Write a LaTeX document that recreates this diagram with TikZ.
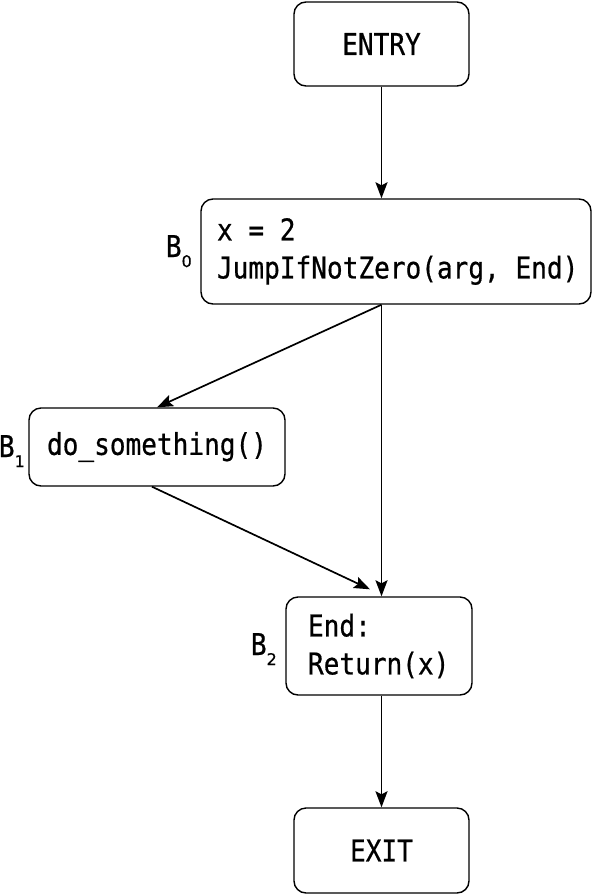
\documentclass[tikz,border=0pt]{standalone}
\usepackage{fontspec}
\newfontfamily\codefont[FakeStretch=0.87,FakeBold=0.6]{DejaVu Sans Mono}
\newfontfamily\subfont[FakeBold=0.6]{DejaVu Sans}
\usetikzlibrary{arrows.meta,calc}
\tikzset{
  blk/.style={draw, line width=1.4pt, rounded corners=12pt, inner sep=0pt,
    font=\codefont\fontsize{30}{38}\selectfont},
  lbl/.style={anchor=base east, inner sep=0pt, font=\codefont\fontsize{30}{38}\selectfont},
  arr/.style={line width=1.7pt, -{Stealth[length=16pt,width=12pt,inset=3pt]}},
}
\newcommand{\spc}{\hspace*{0.5237em}}
\newcommand{\subnum}[1]{\raisebox{-10pt}{\subfont\fontsize{16}{16}\selectfont #1}}
\begin{document}
\begin{tikzpicture}[x=1pt,y=-1pt]
\useasboundingbox (0,0) rectangle (592,895);
\node[blk, minimum width=175pt, minimum height=84pt] (entry) at (381.5,44) {ENTRY};
\node[blk, minimum width=390pt, minimum height=105pt, text width=358pt, align=left] (b0) at (396,251.5) {x\spc=\spc2\\JumpIfNotZero(arg,\spc End)};
\node[blk, minimum width=256pt, minimum height=78pt] (b1) at (157,447) {do\_something()};
\node[blk, minimum width=186pt, minimum height=98pt, text width=142pt, align=left] (b2) at (379,646) {End:\\Return(x)};
\node[blk, minimum width=175pt, minimum height=85pt] (exit) at (381.5,850.5) {EXIT};
\node[lbl] (l0) at (192,257) {B\subnum{0}};
\node[lbl] (l1) at (25,457) {B\subnum{1}};
\node[lbl] (l2) at (277,655) {B\subnum{2}};
\draw[arr] (entry.south) -- (entry.south |- b0.north);
\draw[arr] (b0.south -| entry) -- (b1.north);
\draw[arr] (b0.south -| entry) -- (b2.north -| entry);
\draw[arr] ($(b1.south)+(-5,0)$) -- ($(b2.north)+(-9,-7)$);
\draw[arr] (b2.south -| entry) -- (exit.north);
\end{tikzpicture}
\end{document}
